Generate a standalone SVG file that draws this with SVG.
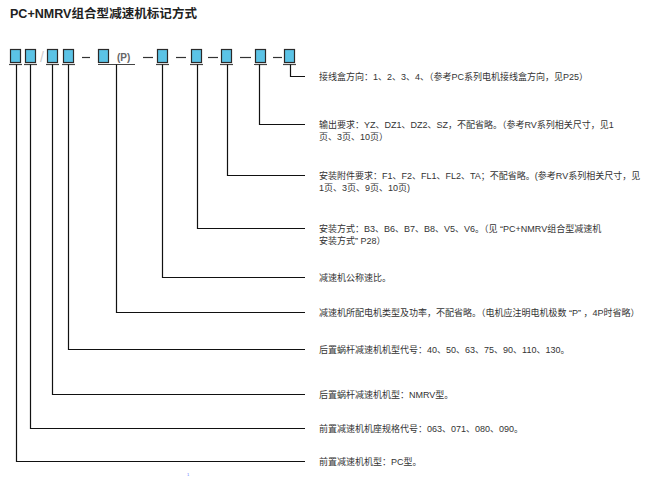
<svg xmlns="http://www.w3.org/2000/svg" width="650" height="491" viewBox="0 0 650 491">
<style>
.box{fill:#5bc3e6;stroke:#2a2a2a;stroke-width:1.2}
.ul{stroke:#444;stroke-width:1.2}
.ln{fill:none;stroke:#111;stroke-width:1.2}
.dash{stroke:#333;stroke-width:1.2}
.t{font-family:"Liberation Sans","Noto Sans CJK SC",sans-serif;font-size:9px;fill:#333}
.title{font-family:"Liberation Sans","Noto Sans CJK SC",sans-serif;font-size:12px;font-weight:bold;fill:#222}
</style>
<rect width="650" height="491" fill="#fff"/>
<text class="title" x="10" y="18" textLength="187" lengthAdjust="spacingAndGlyphs">PC+NMRV组合型减速机标记方式</text>

<g id="code">
<g id="b1"><rect class="box" x="10.5" y="49.5" width="10" height="13"/><line class="ul" x1="9" y1="64.5" x2="22" y2="64.5"/></g>
<g id="b2"><rect class="box" x="25.5" y="49.5" width="10" height="13"/><line class="ul" x1="24" y1="64.5" x2="37" y2="64.5"/></g>
<text x="40" y="62" font-family="Liberation Sans,sans-serif" font-size="14" fill="#ccc">/</text>
<g id="b3"><rect class="box" x="47.5" y="49.5" width="10" height="13"/><line class="ul" x1="46" y1="64.5" x2="59" y2="64.5"/></g>
<g id="b4"><rect class="box" x="63.5" y="49.5" width="10" height="13"/><line class="ul" x1="62" y1="64.5" x2="75" y2="64.5"/></g>
<line class="dash" x1="82" y1="57.5" x2="90" y2="57.5"/>
<g id="b5"><rect class="box" x="98.5" y="49.5" width="10" height="13"/><line class="ul" x1="98" y1="64.5" x2="135" y2="64.5"/>
<text x="117" y="61" font-family="Liberation Sans,sans-serif" font-size="10" font-weight="bold" fill="#666">(P)</text></g>
<line class="dash" x1="143" y1="57.5" x2="153" y2="57.5"/>
<g id="b6"><rect class="box" x="157.5" y="49.5" width="10" height="13"/><line class="ul" x1="156" y1="64.5" x2="169" y2="64.5"/></g>
<line class="dash" x1="176" y1="57.5" x2="186" y2="57.5"/>
<g id="b7"><rect class="box" x="191.5" y="49.5" width="10" height="13"/><line class="ul" x1="190" y1="64.5" x2="203" y2="64.5"/></g>
<line class="dash" x1="208" y1="57.5" x2="218" y2="57.5"/>
<g id="b8"><rect class="box" x="221.5" y="49.5" width="10" height="13"/><line class="ul" x1="220" y1="64.5" x2="233" y2="64.5"/></g>
<line class="dash" x1="240" y1="57.5" x2="251" y2="57.5"/>
<g id="b9"><rect class="box" x="255.5" y="49.5" width="10" height="13"/><line class="ul" x1="254" y1="64.5" x2="267" y2="64.5"/></g>
<line class="dash" x1="273" y1="57.5" x2="282" y2="57.5"/>
<g id="b10"><rect class="box" x="284.5" y="49.5" width="10" height="13"/><line class="ul" x1="283" y1="64.5" x2="296" y2="64.5"/></g>
</g>

<g id="connectors">
<polyline class="ln" points="290.5,64.5 290.5,76.5 305,76.5"/>
<polyline class="ln" points="259.5,64.5 259.5,124.5 305,124.5"/>
<polyline class="ln" points="227.5,64.5 227.5,175.5 305,175.5"/>
<polyline class="ln" points="197.5,64.5 197.5,228.5 305,228.5"/>
<polyline class="ln" points="162.5,64.5 162.5,277.5 305,277.5"/>
<polyline class="ln" points="116.5,64.5 116.5,312.5 305,312.5"/>
<polyline class="ln" points="68.5,64.5 68.5,349.5 305,349.5"/>
<polyline class="ln" points="52.5,64.5 52.5,394.5 305,394.5"/>
<polyline class="ln" points="30.5,64.5 30.5,428.5 305,428.5"/>
<polyline class="ln" points="16.5,64.5 16.5,461.5 305,461.5"/>
</g>

<g id="labels">
<g id="l10"><text class="t" x="319" y="80">接线盒方向：1、2、3、4、（参考PC系列电机接线盒方向，见P25）</text></g>
<g id="l9"><text class="t" x="319" y="128">输出要求：YZ、DZ1、DZ2、SZ，不配省略。（参考RV系列相关尺寸，见1</text><text class="t" x="319" y="140">页、3页、10页）</text></g>
<g id="l8"><text class="t" x="319" y="179">安装附件要求：F1、F2、FL1、FL2、TA；不配省略。(参考RV系列相关尺寸，见</text><text class="t" x="319" y="191">1页、3页、9页、10页)</text></g>
<g id="l7"><text class="t" x="319" y="232">安装方式：B3、B6、B7、B8、V5、V6。（见 “PC+NMRV组合型减速机</text><text class="t" x="319" y="244">安装方式” P28）</text></g>
<g id="l6"><text class="t" x="319" y="281">减速机公称速比。</text></g>
<g id="l5"><text class="t" x="319" y="316">减速机所配电机类型及功率，不配省略。（电机应注明电机极数 “P” ，4P时省略）</text></g>
<g id="l4"><text class="t" x="319" y="353">后置蜗杆减速机机型代号：40、50、63、75、90、110、130。</text></g>
<g id="l3"><text class="t" x="319" y="398">后置蜗杆减速机机型：NMRV型。</text></g>
<g id="l2"><text class="t" x="319" y="432">前置减速机机座规格代号：063、071、080、090。</text></g>
<g id="l1"><text class="t" x="319" y="465">前置减速机机型：PC型。</text></g>
</g>
<text x="187" y="476" font-family="Liberation Sans,sans-serif" font-size="4" fill="#6677ff">1</text>
</svg>
